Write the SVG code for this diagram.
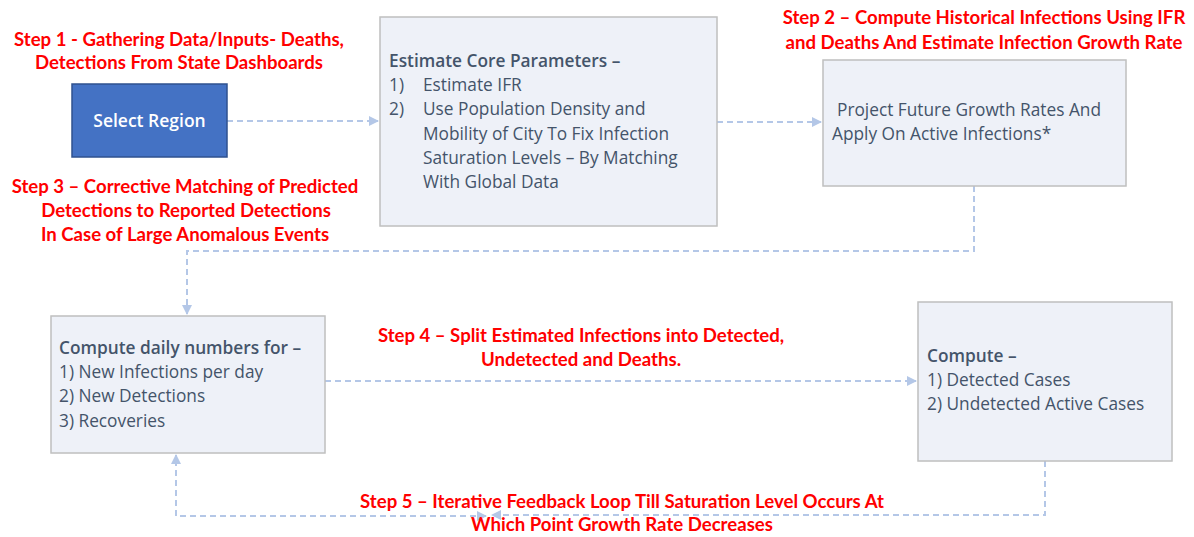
<svg xmlns="http://www.w3.org/2000/svg" width="1194" height="537" viewBox="0 0 1194 537">
  <style>
    .box { fill: #EEF1F8; stroke: #BFBFBF; stroke-width: 1.5; }
    .body { font-family: "Open Sans", "Noto Sans", sans-serif; font-size: 17.3px; fill: #44546A; }
    .bold { font-weight: 600; }
    .step { font-family: "Lato", "Liberation Sans", sans-serif; font-weight: 700; font-size: 18.6px; fill: #FF0000; text-anchor: middle; }
    .conn { fill: none; stroke: #B4C7E7; stroke-width: 2; stroke-dasharray: 6 4; }
  </style>
  <defs>
    <marker id="arrow" viewBox="0 0 10 10" refX="9" refY="5" markerWidth="5" markerHeight="5" orient="auto-start-reverse" markerUnits="strokeWidth">
      <path d="M0,0 L10,5 L0,10 Z" fill="#B4C7E7"/>
    </marker>
  </defs>

  <!-- connectors -->
  <g id="connectors">
    <path class="conn" d="M227,121 H378" marker-end="url(#arrow)"/>
    <path class="conn" d="M717,122 H821" marker-end="url(#arrow)"/>
    <path class="conn" d="M974,186 V251 H187 V314" marker-end="url(#arrow)"/>
    <path class="conn" d="M325,381 H916" marker-end="url(#arrow)"/>
    <path class="conn" d="M1045,461 V515 H492" marker-end="url(#arrow)"/>
    <path class="conn" d="M486,516 H176 V455" marker-start="url(#arrow)" marker-end="url(#arrow)"/>
  </g>

  <!-- nodes -->
  <g id="select-region">
    <rect x="72" y="84" width="155" height="73" fill="#4472C4" stroke="#2F528F" stroke-width="1.5"/>
    <text x="149.5" y="127" text-anchor="middle" font-family="Open Sans, Noto Sans, sans-serif" font-size="17.5" font-weight="600" fill="#FFFFFF">Select Region</text>
  </g>

  <g id="estimate-core">
    <rect class="box" x="380" y="17" width="337" height="209"/>
    <text class="body bold" x="389" y="67">Estimate Core Parameters –</text>
    <text class="body" x="389" y="91">1)</text>
    <text class="body" x="423" y="91">Estimate IFR</text>
    <text class="body" x="389" y="115">2)</text>
    <text class="body" x="423" y="115">Use Population Density and</text>
    <text class="body" x="423" y="140">Mobility of City To Fix Infection</text>
    <text class="body" x="423" y="164">Saturation Levels – By Matching</text>
    <text class="body" x="423" y="188">With Global Data</text>
  </g>

  <g id="project-growth">
    <rect class="box" x="823" y="60" width="303" height="126"/>
    <text class="body" x="837" y="116">Project Future Growth Rates And</text>
    <text class="body" x="832" y="140">Apply On Active Infections*</text>
  </g>

  <g id="compute-daily">
    <rect class="box" x="51" y="316" width="274" height="137"/>
    <text class="body bold" x="59" y="354">Compute daily numbers for –</text>
    <text class="body" x="59" y="378">1) New Infections per day</text>
    <text class="body" x="59" y="402">2) New Detections</text>
    <text class="body" x="59" y="427">3) Recoveries</text>
  </g>

  <g id="compute-cases">
    <rect class="box" x="918" y="302" width="254" height="159"/>
    <text class="body bold" x="927" y="362">Compute –</text>
    <text class="body" x="927" y="386">1) Detected Cases</text>
    <text class="body" x="927" y="410">2) Undetected Active Cases</text>
  </g>

  <!-- step annotations -->
  <g id="step-1">
    <text class="step" x="179" y="46">Step 1 - Gathering Data/Inputs- Deaths,</text>
    <text class="step" x="179" y="69">Detections From State Dashboards</text>
  </g>
  <g id="step-2">
    <text class="step" x="984" y="24">Step 2 – Compute Historical Infections Using IFR</text>
    <text class="step" x="984" y="49">and Deaths And Estimate Infection Growth Rate</text>
  </g>
  <g id="step-3">
    <text class="step" x="185" y="193">Step 3 – Corrective Matching of Predicted</text>
    <text class="step" x="186" y="217">Detections to Reported Detections</text>
    <text class="step" x="185" y="241">In Case of Large Anomalous Events</text>
  </g>
  <g id="step-4">
    <text class="step" x="581" y="342">Step 4 – Split Estimated Infections into Detected,</text>
    <text class="step" x="581" y="366">Undetected and Deaths.</text>
  </g>
  <g id="step-5">
    <text class="step" x="622" y="508">Step 5 – Iterative Feedback Loop Till Saturation Level Occurs At</text>
    <text class="step" x="622" y="531">Which Point Growth Rate Decreases</text>
  </g>
</svg>
